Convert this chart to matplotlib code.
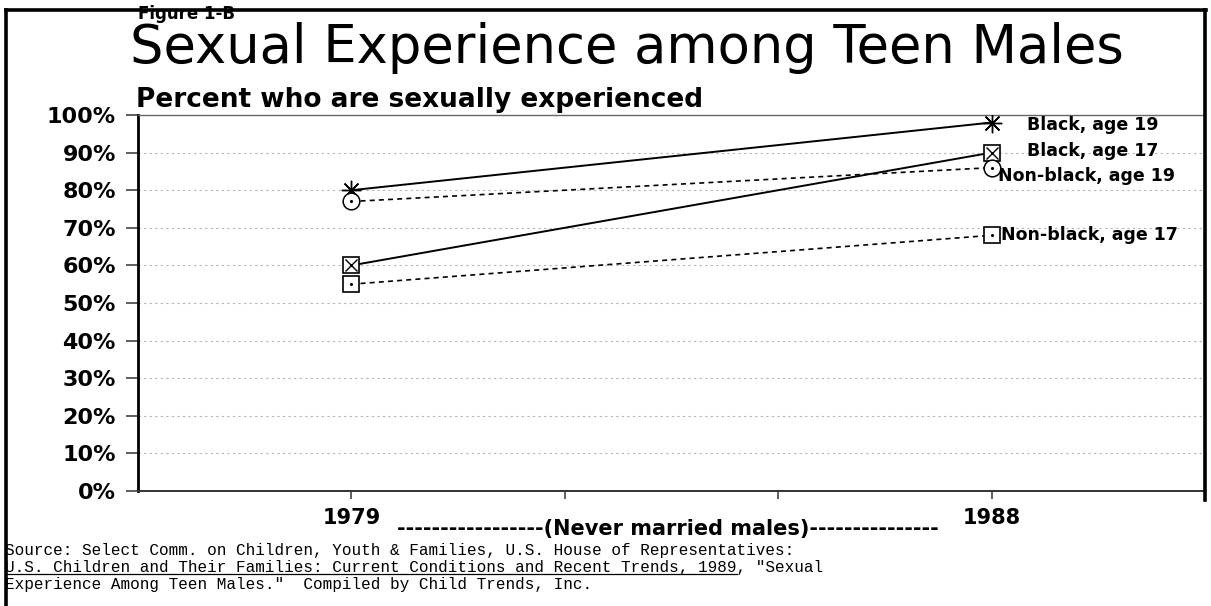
import matplotlib
matplotlib.use("Agg")
import matplotlib.pyplot as plt
from matplotlib.lines import Line2D

# ==============================
# Data
# ==============================
years = [1979, 1988]
black_19 = [80, 98]
black_17 = [60, 90]
nonblack_19 = [77, 86]
nonblack_17 = [55, 68]
series_labels = ["Black, age 19", "Black, age 17", "Non-black, age 19", "Non-black, age 17"]

y_ticks = list(range(0, 101, 10))
y_ticklabels = [f"{v}%" for v in y_ticks]
x_ticks = [1979, 1982, 1985, 1988]
x_ticklabels = ["1979", "", "", "1988"]

title = "Sexual Experience among Teen Males"
subtitle = "Percent who are sexually experienced"
x_caption = "-----------------(Never married males)---------------"
source_lines = [
    "Source: Select Comm. on Children, Youth & Families, U.S. House of Representatives:",
    "U.S. Children and Their Families: Current Conditions and Recent Trends, 1989, \"Sexual",
    "Experience Among Teen Males.\"  Compiled by Child Trends, Inc.",
]
underlined = "U.S. Children and Their Families: Current Conditions and Recent Trends, 1989"

# ==============================
# Figure / layout helpers (pixel -> figure fraction)
# ==============================
W, H = 1211, 606
fx = lambda px: px / W
fy = lambda py: 1 - py / H

plt.rcParams["font.family"] = ["DejaVu Sans"]
fig = plt.figure(figsize=(W / 100, H / 100), dpi=100)
ax = fig.add_axes([fx(138), fy(491), fx(1205) - fx(138), fy(115) - fy(491)])

# ==============================
# Series
# ==============================
ax.plot(years, black_19, color="black", lw=1.4, marker=(8, 2, 0), ms=14, mew=1.0, zorder=4)

ax.plot(years, black_17, color="black", lw=1.4, marker="s", ms=11, mfc="white", mec="black", mew=1.2, zorder=4)
ax.plot(years, black_17, ls="none", color="black", marker="x", ms=9, mew=1.0, zorder=5)

ax.plot(years, nonblack_19, color="black", lw=1.2, ls=(0, (3, 2.5)), marker="o", ms=12,
        mfc="white", mec="black", mew=1.1, zorder=4)
ax.plot(years, nonblack_19, ls="none", color="black", marker=".", ms=2.5, zorder=5)

ax.plot(years, nonblack_17, color="black", lw=1.2, ls=(0, (3, 2.5)), marker="s", ms=11,
        mfc="white", mec="black", mew=1.2, zorder=4)
ax.plot(years, nonblack_17, ls="none", color="black", marker=".", ms=2.5, zorder=5)

# end-of-line labels
ends = [black_19[-1], black_17[-1], nonblack_19[-1], nonblack_17[-1]]
offsets = [(35, -2), (35, 2), (6, -8), (9, 0)]
for lab, yv, off in zip(series_labels, ends, offsets):
    ax.annotate(lab, xy=(years[-1], yv), xytext=off, textcoords="offset pixels",
                ha="left", va="center", fontsize=12.5, fontweight="bold", annotation_clip=False)

# ==============================
# Axes styling
# ==============================
ax.set_xlim(1976, 1991)
ax.set_ylim(0, 100)
ax.set_yticks(y_ticks)
ax.set_yticklabels(y_ticklabels, fontsize=16, fontweight="bold")
ax.set_xticks(x_ticks)
ax.set_xticklabels(x_ticklabels, fontsize=15, fontweight="bold")
ax.tick_params(axis="y", direction="out", length=9, width=1.1, pad=7, color="#333333")
ax.tick_params(axis="x", direction="out", length=6, width=1.1, pad=6, color="#333333")

for yv in y_ticks[1:-1]:
    ax.axhline(yv, color="#b5b5b5", lw=0.8, ls=(0, (2, 3)), zorder=1)

ax.spines["left"].set_linewidth(2.0)
ax.spines["bottom"].set_linewidth(1.4)
ax.spines["bottom"].set_color("#333333")
ax.spines["top"].set_linewidth(1.0)
ax.spines["top"].set_color("#666666")
ax.spines["right"].set_visible(False)

# ==============================
# Text around the plot
# ==============================
fig.text(fx(138), fy(19), "Figure 1-B", fontsize=12, fontweight="bold", va="baseline", ha="left")
fig.text(fx(130), fy(63), title, fontsize=38, va="baseline", ha="left")
fig.text(fx(136), fy(107), subtitle, fontsize=19, fontweight="bold", va="baseline", ha="left")
fig.text(fx(668), fy(529), x_caption, fontsize=15, fontweight="bold", va="center", ha="center")

src_y = [555, 572, 589]
src_texts = []
for line, py in zip(source_lines, src_y):
    t = fig.text(fx(5), fy(py), line, fontsize=11.5, family="Liberation Mono",
                 va="baseline", ha="left")
    src_texts.append(t)

# underline the book title on the second source line
fig.canvas.draw()
renderer = fig.canvas.get_renderer()
bb = src_texts[1].get_window_extent(renderer)
char_w = bb.width / len(source_lines[1])
ul_y = fy(src_y[1] + 2)
fig.add_artist(Line2D([fx(5), fx(5 + char_w * len(underlined))], [ul_y, ul_y],
                      transform=fig.transFigure, color="black", lw=0.9))

# page frame (left, top, right)
frame_kw = dict(transform=fig.transFigure, color="black", lw=2.6, zorder=10)
fig.add_artist(Line2D([fx(6), fx(6)], [fy(10), 0], **frame_kw))
fig.add_artist(Line2D([fx(6), fx(1206)], [fy(10), fy(10)], **frame_kw))
fig.add_artist(Line2D([fx(1205), fx(1205)], [fy(10), fy(500)], **frame_kw))

fig.savefig("out.png", dpi=100)
